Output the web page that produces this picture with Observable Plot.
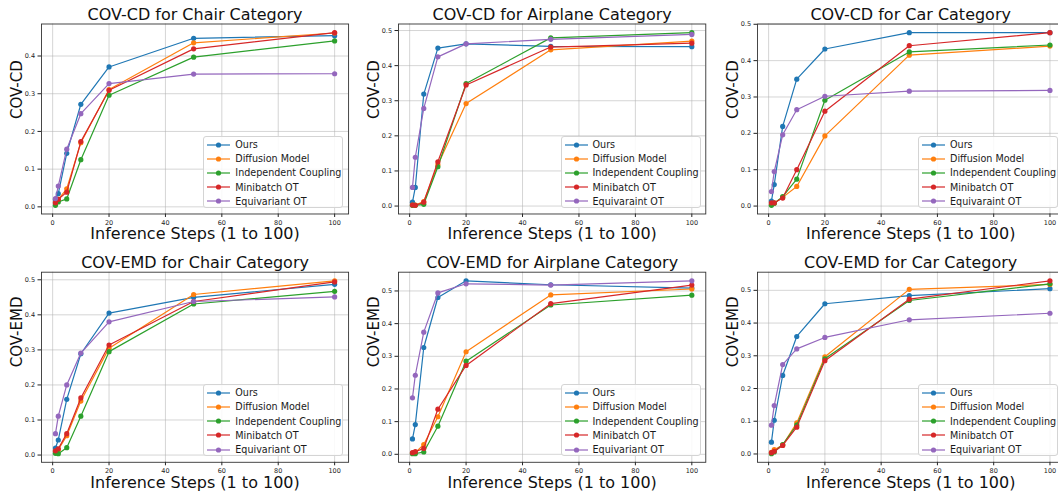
<!DOCTYPE html>
<html><head><meta charset="utf-8">
<script src="https://cdn.jsdelivr.net/npm/d3@7"></script>
<script src="https://cdn.jsdelivr.net/npm/@observablehq/plot@0.6"></script>
<style>
html,body{margin:0;padding:0;background:#fff;overflow:hidden;}
#root{position:relative;width:1058px;height:496px;overflow:hidden;font-family:"DejaVu Sans",sans-serif;background:#fff;}
.panel{position:absolute;}
.panel svg{background:transparent !important;overflow:visible;}
.legend{position:absolute;background:rgba(255,255,255,0.85);border:1px solid #d4d4d4;border-radius:3px;box-sizing:border-box;font-size:9.6px;color:#1a1a1a;font-family:"DejaVu Sans",sans-serif;}
.legend .row{position:absolute;left:2px;height:14px;display:flex;align-items:center;white-space:nowrap;}
.legend .row svg{margin-right:4px;}
</style></head><body><div id="root"></div>
<script>
// ---------- data ----------
const steps = [1, 2, 5, 10, 20, 50, 100];
const methods = ["Ours", "Diffusion Model", "Independent Coupling", "Minibatch OT", "Equivariant OT"];
const colors = ["#1f77b4", "#ff7f0e", "#2ca02c", "#d62728", "#9467bd"];
const xTicks = [0, 20, 40, 60, 80, 100];

// rows: Ours, Diffusion Model, Independent Coupling, Minibatch OT, Equivariant OT
const chairCD = [
  [0.020, 0.035, 0.142, 0.272, 0.371, 0.447, 0.454],
  [0.010, 0.020, 0.048, 0.170, 0.311, 0.435, 0.461],
  [0.004, 0.013, 0.021, 0.125, 0.296, 0.397, 0.440],
  [0.011, 0.020, 0.039, 0.173, 0.309, 0.419, 0.462],
  [0.022, 0.055, 0.153, 0.247, 0.327, 0.352, 0.353]
];
const airplaneCD = [
  [0.011, 0.053, 0.319, 0.450, 0.462, 0.455, 0.454],
  [0.003, 0.003, 0.013, 0.118, 0.292, 0.445, 0.470],
  [0.002, 0.002, 0.005, 0.112, 0.349, 0.479, 0.494],
  [0.003, 0.002, 0.011, 0.126, 0.345, 0.453, 0.464],
  [0.053, 0.139, 0.278, 0.425, 0.462, 0.475, 0.489]
];
const carCD = [
  [0.014, 0.059, 0.219, 0.349, 0.432, 0.477, 0.477],
  [0.005, 0.008, 0.024, 0.054, 0.193, 0.415, 0.440],
  [0.002, 0.008, 0.026, 0.074, 0.291, 0.424, 0.443],
  [0.009, 0.009, 0.022, 0.100, 0.261, 0.441, 0.477],
  [0.040, 0.095, 0.196, 0.265, 0.302, 0.316, 0.318]
];
const chairEMD = [
  [0.020, 0.043, 0.159, 0.289, 0.405, 0.450, 0.487],
  [0.010, 0.015, 0.055, 0.154, 0.305, 0.458, 0.497],
  [0.005, 0.004, 0.021, 0.111, 0.295, 0.431, 0.467],
  [0.012, 0.018, 0.061, 0.163, 0.314, 0.438, 0.494],
  [0.061, 0.111, 0.200, 0.291, 0.380, 0.438, 0.451]
];
const airplaneEMD = [
  [0.047, 0.091, 0.327, 0.480, 0.531, 0.519, 0.509],
  [0.004, 0.005, 0.030, 0.115, 0.314, 0.488, 0.506],
  [0.002, 0.002, 0.007, 0.086, 0.285, 0.457, 0.487],
  [0.005, 0.008, 0.018, 0.138, 0.272, 0.461, 0.518],
  [0.173, 0.242, 0.374, 0.494, 0.522, 0.518, 0.531]
];
const carEMD = [
  [0.036, 0.103, 0.240, 0.359, 0.459, 0.484, 0.505],
  [0.005, 0.013, 0.027, 0.095, 0.297, 0.503, 0.518],
  [0.001, 0.006, 0.029, 0.088, 0.291, 0.469, 0.520],
  [0.004, 0.008, 0.026, 0.082, 0.285, 0.473, 0.529],
  [0.088, 0.148, 0.273, 0.321, 0.356, 0.410, 0.430]
];

const titles = [
  "COV-CD for Chair Category", "COV-CD for Airplane Category", "COV-CD for Car Category",
  "COV-EMD for Chair Category", "COV-EMD for Airplane Category", "COV-EMD for Car Category"
];
const yLabels = ["COV-CD", "COV-CD", "COV-CD", "COV-EMD", "COV-EMD", "COV-EMD"];
const xLabel = "Inference Steps (1 to 100)";
const legendChair = ["Ours", "Diffusion Model", "Independent Coupling", "Minibatch OT", "Equivariant OT"];
const legendTypo = ["Ours", "Diffusion Model", "Independent Coupling", "Minibatch OT", "Equivaraint OT"];
const panelData = [chairCD, airplaneCD, carCD, chairEMD, airplaneEMD, carEMD];
const panelLegends = [legendChair, legendTypo, legendTypo, legendChair, legendChair, legendChair];

// ---------- layout ----------
const colLeft = [41.2, 398.2, 756.6];
const colRight = [348.3, 705.5, 1063];
const rowSvgTop = [0, 245];
const rowSvgHeight = [245, 251];
const rowTop = [23.5, 271.7];
const rowBottom = [213.5, 461.8];
const padL = 41, padR = 10;

const root = document.getElementById("root");

panelData.forEach((series, p) => {
  const c = p % 3, r = Math.floor(p / 3);
  const rows = [];
  series.forEach((vals, i) => vals.forEach((v, j) => rows.push({step: steps[j], value: v, method: methods[i]})));
  const all = rows.map(d => d.value);
  const lo = d3.min(all), hi = d3.max(all), pad = (hi - lo) * 0.05;
  const xlo = d3.min(steps), xhi = d3.max(steps), xpad = (xhi - xlo) * 0.05;
  const yTicks = d3.range(0, 0.61, 0.1).filter(t => t <= hi + pad);

  const frameW = colRight[c] - colLeft[c];
  const width = frameW + padL + padR;
  const height = rowSvgHeight[r];
  const mTop = rowTop[r] - rowSvgTop[r];
  const mBottom = height - (rowBottom[r] - rowSvgTop[r]);

  const seriesMarks = methods.flatMap((m, i) => {
    const d = rows.filter(q => q.method === m);
    return [
      Plot.line(d, {x: "step", y: "value", stroke: colors[i], strokeWidth: 1.2}),
      Plot.dot(d, {x: "step", y: "value", fill: colors[i], r: 2.6, stroke: "none"})
    ];
  });

  const chart = Plot.plot({
    width, height,
    marginLeft: padL, marginRight: padR, marginTop: mTop, marginBottom: mBottom,
    style: {background: "transparent", fontFamily: "DejaVu Sans, sans-serif", color: "#222", overflow: "visible"},
    x: {domain: [xlo - xpad, xhi + xpad]},
    y: {domain: [lo - pad, hi + pad]},
    marks: [
      Plot.gridX(xTicks, {stroke: "#b0b0b0", strokeOpacity: 0.6, strokeWidth: 0.9}),
      Plot.gridY(yTicks, {stroke: "#b0b0b0", strokeOpacity: 0.6, strokeWidth: 0.9}),
      Plot.axisX(xTicks, {tickSize: 3.5, tickPadding: 2.5, label: null, fontSize: 6.5, tickFormat: d => String(d)}),
      Plot.axisY(yTicks, {tickSize: 3.5, tickPadding: 3, label: null, fontSize: 6.5, tickFormat: d3.format(".1f")}),
      ...seriesMarks,
      Plot.frame({stroke: "#333", strokeWidth: 0.9}),
      Plot.text([titles[p]], {frameAnchor: "top", dy: -4, lineAnchor: "bottom", fontSize: 16, fill: "#111"}),
      Plot.text([xLabel], {frameAnchor: "bottom", dy: 25.5, lineAnchor: "bottom", fontSize: 16, fill: "#111"}),
      Plot.text([yLabels[p]], {frameAnchor: "left", dx: -20, rotate: -90, lineAnchor: "bottom", fontSize: 15, fill: "#111"})
    ]
  });

  const holder = document.createElement("div");
  holder.className = "panel";
  holder.style.left = (colLeft[c] - padL) + "px";
  holder.style.top = rowSvgTop[r] + "px";
  holder.style.width = width + "px";
  holder.style.height = height + "px";
  holder.appendChild(chart);
  root.appendChild(holder);

  // legend (lower right inside frame)
  const lg = document.createElement("div");
  lg.className = "legend";
  const lw = 140, lh = 72;
  lg.style.left = (colRight[c] - 5 - lw) + "px";
  lg.style.top = (rowBottom[r] - 6 - lh) + "px";
  lg.style.width = lw + "px";
  lg.style.height = lh + "px";
  panelLegends[p].forEach((name, i) => {
    const row = document.createElement("div");
    row.className = "row";
    row.style.top = (1 + i * 14.2) + "px";
    const ns = "http://www.w3.org/2000/svg";
    const s = document.createElementNS(ns, "svg");
    s.setAttribute("width", 25); s.setAttribute("height", 14);
    const ln = document.createElementNS(ns, "line");
    ln.setAttribute("x1", 1); ln.setAttribute("x2", 24); ln.setAttribute("y1", 7); ln.setAttribute("y2", 7);
    ln.setAttribute("stroke", colors[i]); ln.setAttribute("stroke-width", 1.2);
    const ci = document.createElementNS(ns, "circle");
    ci.setAttribute("cx", 12.5); ci.setAttribute("cy", 7); ci.setAttribute("r", 2.6); ci.setAttribute("fill", colors[i]);
    s.appendChild(ln); s.appendChild(ci);
    const t = document.createElement("span");
    t.textContent = name;
    row.appendChild(s); row.appendChild(t);
    lg.appendChild(row);
  });
  root.appendChild(lg);
});
</script>
</body></html>
